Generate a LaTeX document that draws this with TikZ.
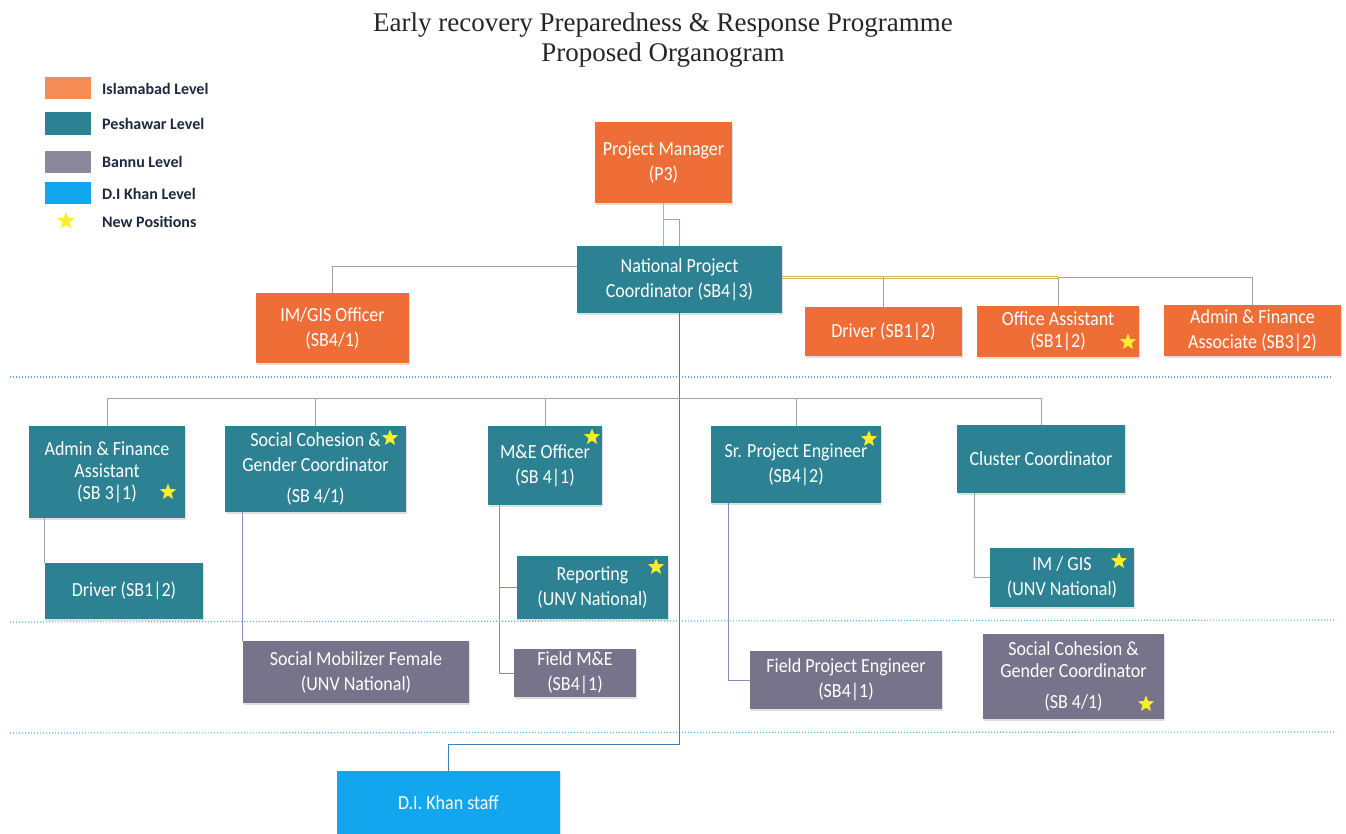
\documentclass[tikz,border=0pt]{standalone}
\usepackage{fontspec}
\setmainfont{Carlito}
\newfontfamily\titlefont{Liberation Serif}
\newfontfamily\boxfont[FakeStretch=0.9]{Carlito}
\usetikzlibrary{shapes.geometric,shadows}
\definecolor{orgc}{HTML}{EF6D36}
\definecolor{orgl}{HTML}{F58B55}
\definecolor{tealc}{HTML}{2C8292}
\definecolor{bannu}{HTML}{77738A}
\definecolor{dikc}{HTML}{12A6EE}
\definecolor{starc}{HTML}{F8EE2A}
\definecolor{linec}{HTML}{97A2B4}
\definecolor{purl}{HTML}{8A8CB6}
\definecolor{goldc}{HTML}{D8AE57}
\definecolor{bluel}{HTML}{3F7FB5}
\definecolor{dotc}{HTML}{58AEDA}
\definecolor{legtext}{HTML}{1E2840}
\newcommand\bx[8][]{\node[orgbox,fill=#7,minimum width={(#5-#3)*1pt},minimum height={(#6-#4)*1pt},#1] (#2) at ({(#3+#5)/2},{(#4+#6)/2}) {#8};}
\tikzset{
  orgbox/.style={draw=none,inner sep=1pt,align=center,text=white,
    font=\boxfont\fontsize{20}{25}\selectfont,
    drop shadow={opacity=0.25,shadow xshift=1pt,shadow yshift=-2pt}},
  tightbox/.style={font=\boxfont\fontsize{20}{22}\selectfont},
  newstar/.style={star,star points=5,star point ratio=2.3,fill=starc,draw=none,minimum size=17pt,inner sep=0pt},
  conn/.style={draw=linec,line width=0.7pt},
  pconn/.style={draw=purl,line width=0.8pt},
  gconn/.style={draw=goldc,line width=1pt},
  bconn/.style={draw=bluel,line width=0.8pt},
  dotline/.style={draw=dotc,line width=1.1pt,dash pattern=on 1.2pt off 1.8pt},
  legtxt/.style={anchor=west,text=legtext,font=\fontsize{16}{18}\selectfont\bfseries,inner sep=0pt}
}
\begin{document}
\begin{tikzpicture}[x=1pt,y=-1pt]
\useasboundingbox (0,0) rectangle (1346,834);
\fill[white] (0,0) rectangle (1346,834);
% title
\node[font=\titlefont\fontsize{27}{30}\selectfont,text=black!85,align=center] (title) at (663,40) {Early recovery Preparedness \& Response Programme\\Proposed Organogram};
% legend
\fill[orgl] (45,77) rectangle (91,99);
\fill[tealc] (45,112) rectangle (91,135);
\fill[bannu!85] (45,151) rectangle (91,173);
\fill[dikc] (45,182) rectangle (91,204);
\node[newstar,minimum size=18pt] (legstar) at (66,221) {};
\node[legtxt] (l1) at (102,89) {Islamabad Level};
\node[legtxt] (l2) at (102,124) {Peshawar Level};
\node[legtxt] (l3) at (102,162) {Bannu Level};
\node[legtxt] (l4) at (102,194) {D.I Khan Level};
\node[legtxt] (l5) at (102,222) {New Positions};
% dotted level lines
\draw[dotline] (10,377) -- (1332,377);
\draw[dotline] (10,622) -- (1335,620);
\draw[dotline] (10,733) -- (1335,732);
% boxes: Islamabad
\bx{pm}{595}{122}{732}{203}{orgc}{Project Manager\\(P3)}
\bx{npc}{577}{246}{782}{313}{tealc}{National Project\\Coordinator (SB4|3)}
\bx{imgis}{256}{293}{409}{363}{orgc}{IM/GIS Officer\\(SB4/1)}
\bx{drv1}{805}{307}{962}{356}{orgc}{Driver (SB1|2)}
\bx[tightbox]{oa}{977}{306}{1139}{357}{orgc}{Office Assistant\\(SB1|2)}
\bx{afa1}{1164}{305}{1341}{356}{orgc}{Admin \& Finance\\Associate (SB3|2)}
% Peshawar
\bx[tightbox]{afa2}{29}{426}{185}{518}{tealc}{Admin \& Finance\\Assistant\\(SB 3|1)}
\bx{scgc}{225}{426}{406}{512}{tealc}{Social Cohesion \&\\Gender Coordinator\\[6pt](SB 4/1)}
\bx{me}{488}{426}{602}{505}{tealc}{M\&E Officer\\(SB 4|1)}
\bx{spe}{711}{426}{881}{503}{tealc}{Sr. Project Engineer\\(SB4|2)}
\bx{cc}{957}{425}{1125}{493}{tealc}{Cluster Coordinator}
\bx{drv2}{45}{563}{203}{619}{tealc}{Driver (SB1|2)}
\bx{rep}{517}{556}{668}{619}{tealc}{Reporting\\(UNV National)}
\bx{img2}{990}{548}{1134}{607}{tealc}{IM / GIS\\(UNV National)}
% Bannu
\bx{smf}{243}{641}{469}{703}{bannu}{Social Mobilizer Female\\(UNV National)}
\bx{fme}{514}{649}{636}{697}{bannu}{Field M\&E\\(SB4|1)}
\bx{fpe}{750}{651}{942}{709}{bannu}{Field Project Engineer\\(SB4|1)}
\bx[tightbox]{scgcb}{983}{634}{1164}{719}{bannu}{Social Cohesion \&\\Gender Coordinator\\[9pt](SB 4/1)}
% D.I. Khan
\bx{dik}{337}{771}{560}{834}{dikc}{D.I. Khan staff}
% connectors
\draw[gconn] (pm.south) -- (pm.south |- npc.north);
\draw[conn] ([yshift=-16pt]pm.south) -| (npc.north);
\draw[conn] ([yshift=13pt]npc.west) -| (imgis.north);
\draw[conn] ([yshift=2pt]npc.east) -| (afa1.north);
\draw[gconn,double=white,double distance=1.2pt,line width=0.6pt] ([yshift=2pt]npc.east) -- ([yshift=2pt]npc.east -| oa.north);
\draw[conn] ([yshift=2pt]npc.east -| drv1.north) -- (drv1.north);
\draw[conn] ([yshift=2pt]npc.east -| oa.north) -- (oa.north);
\draw[bconn] (npc.south) |- ([yshift=26pt]dik.north) -- (dik.north);
\draw[conn] (afa2.north) |- ([yshift=26pt]cc.north) -- (cc.north);
\draw[conn] ([yshift=27pt]scgc.north) -- (scgc.north);
\draw[conn] ([yshift=27pt]me.north) -- (me.north);
\draw[conn] ([yshift=27pt]spe.north) -- (spe.north);
\draw[conn] (afa2.south -| drv2.west) -- (drv2.north west);
\draw[pconn] (scgc.south -| smf.west) -- (smf.north west);
\draw[pconn] ([xshift=12pt]me.south west) |- (fme.west);
\draw[pconn] ([xshift=12pt]me.south west) |- (rep.west);
\draw[pconn] ([xshift=18pt]spe.south west) |- (fpe.west);
\draw[conn] ([xshift=18pt]cc.south west) |- (img2.west);
% stars
\node[newstar] (s1) at (1128,342) {};
\node[newstar] (s2) at (168,492) {};
\node[newstar] (s3) at (390,438) {};
\node[newstar] (s4) at (592,437) {};
\node[newstar] (s5) at (869,439) {};
\node[newstar] (s6) at (656,567) {};
\node[newstar] (s7) at (1119,561) {};
\node[newstar] (s8) at (1146,704) {};
\end{tikzpicture}
\end{document}
